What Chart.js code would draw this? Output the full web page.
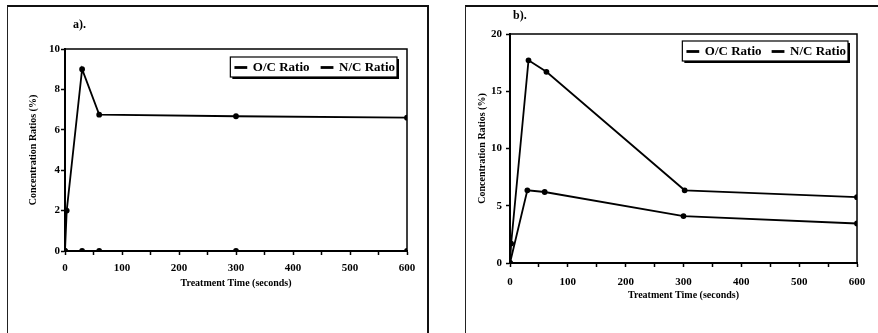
<!DOCTYPE html>
<html>
<head>
<meta charset="utf-8">
<script src="https://cdn.jsdelivr.net/npm/chart.js@4/dist/chart.umd.min.js"></script>
<style>
  body { margin: 0; background: #fff; width: 878px; height: 333px; overflow: hidden; position: relative; }
  .frame { position: absolute; border-top: 2px solid #111; border-left: 1.5px solid #222; }
  #frameA { left: 7px; top: 5px; width: 419px; height: 340px; border-right: 2px solid #111; }
  #frameB { left: 465px; top: 5px; width: 420px; height: 340px; }
  canvas { position: absolute; top: 0; }
  #chartA { left: 0; }
  #chartB { left: 440px; }
  .tag { position: absolute; font: bold 12px "Liberation Serif", serif; color: #000; }
</style>
</head>
<body>
<div class="frame" id="frameA"></div>
<div class="frame" id="frameB"></div>
<canvas id="chartA" width="440" height="333"></canvas>
<canvas id="chartB" width="438" height="333"></canvas>
<div class="tag" style="left:73px;top:17px;">a).</div>
<div class="tag" style="left:513px;top:8px;">b).</div>
<script>
// panel a) values
var timesOcA = [0, 3, 30, 60, 300, 600],
    ocA = [0, 2.0, 9.0, 6.75, 6.67, 6.6],
    timesNcA = [0, 30, 60, 300, 600],
    ncA = [0, 0, 0, 0, 0];

// panel b) values
var timesOcB = [0, 2, 32, 63, 302, 600],
    ocB = [0, 1.7, 17.7, 16.7, 6.35, 5.75],
    timesNcB = [0, 30, 60, 300, 600],
    ncB = [0, 6.35, 6.2, 4.1, 3.45];

var seriesNames = ['O/C Ratio', 'N/C Ratio'];
var xTitle = 'Treatment Time (seconds)',
    yTitle = 'Concentration Ratios (%)';

Chart.defaults.color = '#000';
Chart.defaults.font.family = '"Liberation Serif", serif';

function toPoints(xs, ys) {
    return xs.map(function (x, i) { return { x: x, y: ys[i] }; });
}

// the legend is laid out on top, then pushed down inside the plot area
var legendInside = {
    id: 'legendInside',
    afterUpdate: function (chart) {
        var lg = chart.legend;
        if (!lg) return;
        var dy = chart.chartArea.top - lg.top;
        lg.top += dy;
        lg.bottom += dy;
        lg.legendHitBoxes.forEach(function (b) { b.top += dy; });
    }
};

// box round the plot area and round the legend
var framePlugin = {
    id: 'frames',
    afterDraw: function (chart) {
        var ctx = chart.ctx, a = chart.chartArea;
        ctx.save();
        ctx.strokeStyle = '#000';
        ctx.lineWidth = 1.5;
        ctx.strokeRect(a.left, a.top, a.right - a.left, a.bottom - a.top);
        var boxes = chart.legend.legendHitBoxes;
        if (boxes && boxes.length) {
            var l = Math.min.apply(null, boxes.map(function (b) { return b.left; })) - 5,
                r = Math.max.apply(null, boxes.map(function (b) { return b.left + b.width; })) + 2,
                t = boxes[0].top - 4,
                btm = boxes[0].top + boxes[0].height + 3;
            ctx.lineWidth = 1.2;
            ctx.strokeRect(l, t, r - l, btm - t);
            ctx.lineWidth = 2;
            ctx.beginPath();
            ctx.moveTo(l + 2, btm + 1);
            ctx.lineTo(r + 1, btm + 1);
            ctx.lineTo(r + 1, t + 2);
            ctx.stroke();
        }
        ctx.restore();
    }
};

function makeChart(id, sets, yMax, yStep, opt) {
    return new Chart(document.getElementById(id), {
        type: 'line',
        data: {
            datasets: sets.map(function (s, i) {
                return {
                    label: seriesNames[i],
                    data: s,
                    borderColor: '#000',
                    backgroundColor: '#000',
                    borderWidth: 1.8,
                    pointRadius: 2,
                    pointBackgroundColor: '#000',
                    tension: 0,
                    fill: false
                };
            })
        },
        options: {
            responsive: false,
            animation: false,
            layout: { padding: opt.pad },
            plugins: {
                tooltip: { enabled: false },
                legend: {
                    position: 'top',
                    align: 'end',
                    labels: {
                        boxWidth: 11,
                        boxHeight: 1,
                        padding: opt.legendPad,
                        font: { size: 13, weight: 'bold' }
                    }
                }
            },
            scales: {
                x: {
                    type: 'linear',
                    min: 0,
                    max: 600,
                    afterFit: function (s) { s.height = 38; },
                    border: { display: true, color: '#000', width: 2 },
                    grid: { drawOnChartArea: false, tickLength: 4, color: '#000', tickWidth: 1.5 },
                    ticks: {
                        stepSize: 50,
                        padding: opt.xTickPad,
                        maxRotation: 0,
                        autoSkip: false,
                        font: { size: 11, weight: 'bold' },
                        callback: function (v) { return v % 100 === 0 ? v : ''; }
                    },
                    title: { display: true, text: xTitle, padding: 0, font: { size: 10, weight: 'bold' } }
                },
                y: {
                    min: 0,
                    max: yMax,
                    afterFit: function (s) { s.width = opt.yWidth; },
                    border: { display: true, color: '#000', width: 2 },
                    grid: { drawOnChartArea: false, tickLength: 4, color: '#000', tickWidth: 1.5 },
                    ticks: {
                        stepSize: yStep,
                        padding: opt.yTickPad,
                        font: { size: 11, weight: 'bold' }
                    },
                    title: { display: true, text: yTitle, padding: 0, font: { size: 10, weight: 'bold' } }
                }
            }
        },
        plugins: [legendInside, framePlugin]
    });
}

// top padding leaves room for the legend box that is later moved inside
makeChart('chartA', [toPoints(timesOcA, ocA), toPoints(timesNcA, ncA)], 10, 2, {
    pad: { left: 27, right: 33, top: 14, bottom: 44 },
    yWidth: 38, xTickPad: 7, yTickPad: 1, legendPad: 12
});

makeChart('chartB', [toPoints(timesOcB, ocB), toPoints(timesNcB, ncB)], 20, 5, {
    pad: { left: 36, right: 21, top: 0, bottom: 32 },
    yWidth: 34, xTickPad: 9, yTickPad: 4, legendPad: 11
});
</script>
</body>
</html>
